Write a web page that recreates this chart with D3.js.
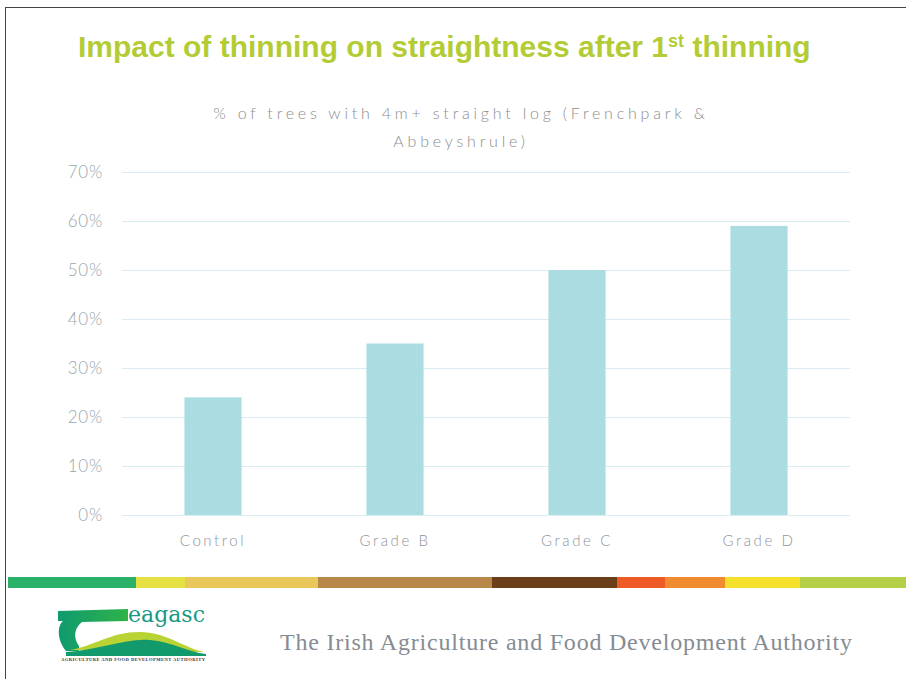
<!DOCTYPE html>
<html><head><meta charset="utf-8">
<script src="https://cdn.jsdelivr.net/npm/d3@7"></script>
<style>body{margin:0;background:#fff}svg{display:block}</style>
</head><body>
<svg id="c" width="906" height="679"></svg>
<script>
const categories = ["Control", "Grade B", "Grade C", "Grade D"];
const values = [0.24, 0.35, 0.50, 0.59];
const yTicks = [0, 0.1, 0.2, 0.3, 0.4, 0.5, 0.6, 0.7];
const titleText = "Impact of thinning on straightness after 1";
const subtitleLines = ["% of trees with 4m+ straight log (Frenchpark &", "Abbeyshrule)"];
const stripeColors = ["#2bb26a","#e6e244","#e9c75a","#b8874a","#6c3f1b","#ee5b26","#f08b30","#f5e02c","#b4d048"];
const stripeStops = [8,136,185,318,492,617,665,725,800,906];

const svg = d3.select("#c");
// slide frame
svg.append("rect").attr("x",5.5).attr("y",7.5).attr("width",940).attr("height",700)
  .attr("fill","none").attr("stroke","#444").attr("stroke-width",1);

// title
const t = svg.append("text").attr("x",78).attr("y",57)
  .attr("font-family","Liberation Sans, Arial, sans-serif").attr("font-weight","bold")
  .attr("font-size",30).attr("fill","#b3cc35");
t.append("tspan").text(titleText);
t.append("tspan").attr("dy",-10).attr("font-size",18).text("st");
t.append("tspan").attr("dy",10).text(" thinning");

// subtitle
svg.selectAll("text.sub").data(subtitleLines).join("text").attr("class","sub")
  .attr("x",461).attr("y",(d,i)=>119+i*28).attr("text-anchor","middle")
  .attr("font-family","Lato, sans-serif").attr("font-weight",300).attr("font-size",16)
  .attr("letter-spacing",3.8).attr("fill","#8c8c8c").text(d=>d);

const x = d3.scaleBand().domain(categories).range([122,850]).paddingInner(0.686).paddingOuter(0.343);
const y = d3.scaleLinear().domain([0,0.7]).range([515,172]);

// gridlines
svg.append("g").selectAll("line").data(yTicks).join("line")
  .attr("x1",122).attr("x2",850).attr("y1",d=>y(d)+0.5).attr("y2",d=>y(d)+0.5)
  .attr("stroke","#d9eef2").attr("stroke-width",1);

// y axis
const ya = svg.append("g").attr("transform","translate(122,0)")
  .call(d3.axisLeft(y).tickValues(yTicks).tickFormat(d3.format(".0%")).tickSize(0).tickPadding(19));
ya.select(".domain").remove();
ya.selectAll("text").attr("font-family","Lato, sans-serif").attr("font-weight",300)
  .attr("font-size",17).attr("letter-spacing",0.8).attr("fill","#9aa6ae");

// bars
svg.append("g").selectAll("rect").data(values).join("rect")
  .attr("x",(d,i)=>x(categories[i])).attr("width",x.bandwidth())
  .attr("y",d=>y(d)).attr("height",d=>y(0)-y(d)).attr("fill","#aadce1");

// x axis
const xa = svg.append("g").attr("transform","translate(0,515)")
  .call(d3.axisBottom(x).tickSize(0).tickPadding(20));
xa.select(".domain").remove();
xa.selectAll("text").attr("font-family","Lato, sans-serif").attr("font-weight",300)
  .attr("font-size",15).attr("letter-spacing",2.6).attr("fill","#8f9499");

// stripe
svg.append("g").selectAll("rect").data(stripeColors).join("rect")
  .attr("x",(d,i)=>stripeStops[i]).attr("width",(d,i)=>stripeStops[i+1]-stripeStops[i])
  .attr("y",577).attr("height",11).attr("fill",d=>d);

// logo
const lg = svg.append("g");
const grad = svg.append("defs").append("linearGradient").attr("id","lg1").attr("x1",0).attr("x2",1);
grad.append("stop").attr("offset",0).attr("stop-color","#0f9a6e");
grad.append("stop").attr("offset",1).attr("stop-color","#2fb34a");
lg.append("path").attr("d","M58,611 L128,609 L128,621 L82,622 C74,628 73,638 79,646 L79,651 L66,651 C57,640 57,626 63,621 L58,621 Z")
  .attr("fill","url(#lg1)");
lg.append("path").attr("d","M70,650 C95,646 110,632 140,632 C165,632 185,648 204,652 Z").attr("fill","#b9d234");
lg.append("path").attr("d","M66,652 C100,650 125,638 150,640 C172,642 188,652 206,654 L206,656 L66,656 Z").attr("fill","#139a6c");
lg.append("text").attr("x",128).attr("y",622).attr("font-family","DejaVu Serif, serif")
  .attr("font-size",22).attr("fill","#169a84").text("eagasc");
lg.append("text").attr("x",61).attr("y",661).attr("font-family","Liberation Serif, serif")
  .attr("font-size",4.6).attr("font-weight","bold").attr("fill","#333")
  .attr("textLength",144).text("AGRICULTURE AND FOOD DEVELOPMENT AUTHORITY");

// footer text
svg.append("text").attr("x",280).attr("y",650).attr("font-family","Liberation Serif, serif")
  .attr("font-size",24).attr("fill","#858c93").attr("textLength",572)
  .text("The Irish Agriculture and Food Development Authority");
</script>
</body></html>
